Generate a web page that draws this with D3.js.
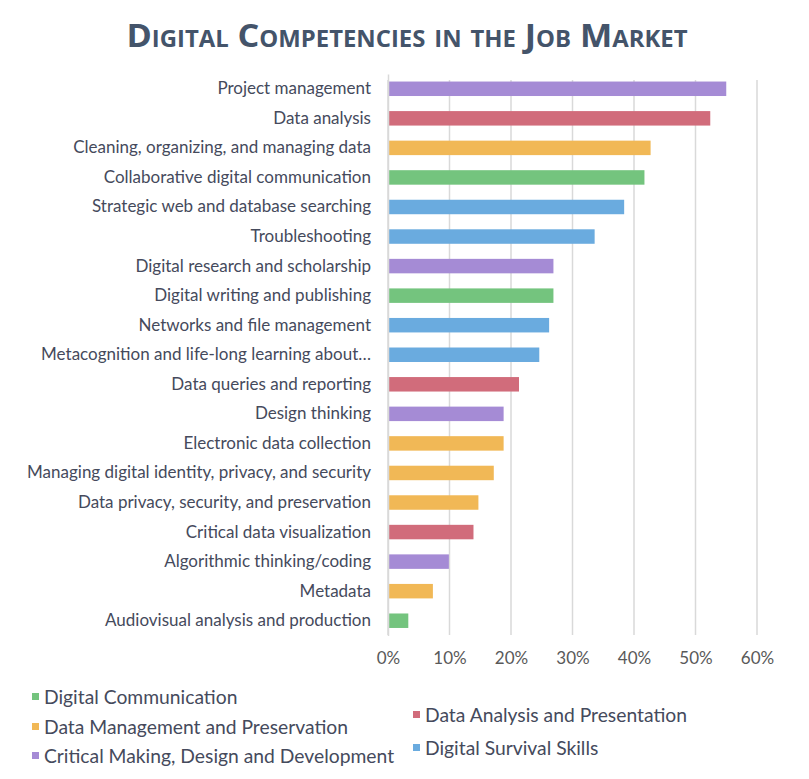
<!DOCTYPE html>
<html>
<head>
<meta charset="utf-8">
<script src="https://cdn.jsdelivr.net/npm/d3@7"></script>
<style>
  body { margin: 0; background: #fff; }
  svg { display: block; }
</style>
</head>
<body>
<div id="chart"></div>
<script>
// competencies, top to bottom
var skills = [
  "Project management",
  "Data analysis",
  "Cleaning, organizing, and managing data",
  "Collaborative digital communication",
  "Strategic web and database searching",
  "Troubleshooting",
  "Digital research and scholarship",
  "Digital writing and publishing",
  "Networks and file management",
  "Metacognition and life-long learning about\u2026",
  "Data queries and reporting",
  "Design thinking",
  "Electronic data collection",
  "Managing digital identity, privacy, and security",
  "Data privacy, security, and preservation",
  "Critical data visualization",
  "Algorithmic thinking/coding",
  "Metadata",
  "Audiovisual analysis and production"
];
// share of job ads (%)
var shares = [55, 52.4, 42.7, 41.7, 38.4, 33.6, 26.9, 26.9, 26.2, 24.6,
              21.3, 18.8, 18.8, 17.2, 14.7, 13.9, 9.9, 7.3, 3.3];
// category of each competency
var groups = ["crit", "anal", "mgmt", "comm", "surv", "surv", "crit", "comm", "surv", "surv",
              "anal", "crit", "mgmt", "mgmt", "mgmt", "anal", "crit", "mgmt", "comm"];
var groupKeys = ["comm", "mgmt", "crit", "anal", "surv"];
var groupNames = ["Digital Communication", "Data Management and Preservation",
                  "Critical Making, Design and Development", "Data Analysis and Presentation",
                  "Digital Survival Skills"];
var groupColors = ["#74c47e", "#f1b856", "#a58bd5", "#d16c7b", "#6aabdf"];
var xTicks = [0, 10, 20, 30, 40, 50, 60];

var W = 809, H = 779;
var svg = d3.select("#chart").append("svg").attr("width", W).attr("height", H);
var font = "Lato, 'Open Sans', sans-serif";

svg.append("text")
  .attr("x", 407).attr("y", 47)
  .attr("text-anchor", "middle")
  .attr("textLength", 561).attr("lengthAdjust", "spacingAndGlyphs")
  .style("font-family", "'Open Sans', sans-serif").style("font-weight", "bold")
  .style("font-variant", "small-caps").style("font-size", "33px")
  .style("fill", "#44546a")
  .text("Digital Competencies in the Job Market");

var x = d3.scaleLinear().domain([0, 60]).range([388, 757]);
var y = d3.scaleBand().domain(skills).range([74, 635.5]).paddingInner(0.51).paddingOuter(0.255);
var color = d3.scaleOrdinal().domain(groupKeys).range(groupColors);

// gridlines
svg.append("g").selectAll("line").data(xTicks).enter().append("line")
  .attr("x1", function(d) { return x(d); }).attr("x2", function(d) { return x(d); })
  .attr("y1", 80).attr("y2", 635)
  .attr("stroke", "#d9d9d9").attr("stroke-width", 1.5);

svg.append("g").selectAll("rect").data(skills).enter().append("rect")
  .attr("x", x(0) + 1)
  .attr("y", function(d) { return y(d); })
  .attr("width", function(d, i) { return x(shares[i]) - x(0) - 1; })
  .attr("height", y.bandwidth())
  .attr("fill", function(d, i) { return color(groups[i]); });

// category axis
var yAxis = svg.append("g").attr("transform", "translate(388,0)")
  .call(d3.axisLeft(y).tickSize(0).tickPadding(17));
yAxis.select(".domain").attr("stroke", "#d9d9d9").attr("stroke-width", 1.5);
yAxis.selectAll("text").style("font-family", font).style("font-size", "17px").style("fill", "#454a5c");

var xAxis = svg.append("g").attr("transform", "translate(0,635)")
  .call(d3.axisBottom(x).tickValues(xTicks).tickSize(0).tickPadding(17)
    .tickFormat(function(d) { return d + "%"; }));
xAxis.select(".domain").remove();
xAxis.selectAll("text").style("font-family", font).style("font-size", "17px").style("fill", "#595959");

// legend
var legendPos = [[32, 697], [32, 727], [32, 756], [413, 715], [413, 748]];
var leg = svg.append("g").selectAll("g").data(groupKeys).enter().append("g")
  .attr("transform", function(d, i) { return "translate(" + legendPos[i][0] + "," + legendPos[i][1] + ")"; });
leg.append("rect").attr("x", 0).attr("y", -4).attr("width", 7).attr("height", 7)
  .attr("fill", function(d) { return color(d); });
leg.append("text").attr("x", 12).attr("dy", "0.35em")
  .style("font-family", font).style("font-size", "19.3px").style("fill", "#454a5c")
  .text(function(d, i) { return groupNames[i]; });
</script>
</body>
</html>
